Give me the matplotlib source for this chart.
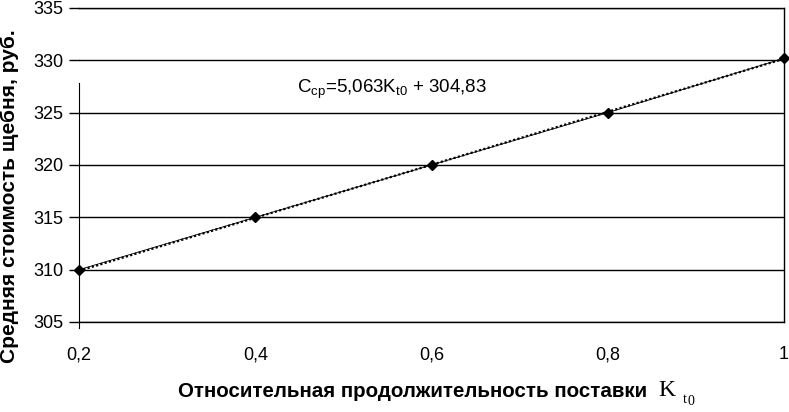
import matplotlib
matplotlib.use("Agg")
import matplotlib.pyplot as plt
import numpy as np

plt.rcParams['font.family'] = ['Liberation Sans', 'DejaVu Sans']
plt.rcParams['mathtext.fontset'] = 'custom'
plt.rcParams['mathtext.rm'] = 'Liberation Sans'
plt.rcParams['mathtext.it'] = 'Liberation Sans'

k_values = [0.2, 0.4, 0.6, 0.8, 1.0]
cost_values = [310.0, 315.0, 320.0, 325.0, 330.2]
x_ticks = [0.2, 0.4, 0.6, 0.8, 1.0]
x_tick_labels = ["0,2", "0,4", "0,6", "0,8", "1"]
y_ticks = [305, 310, 315, 320, 325, 330, 335]
trend_slope = 5.063
trend_intercept = 304.83
equation = "C$_{\\mathrm{ср}}$=5,063K$_{\\mathrm{t0}}$ + 304,83"

W, H = 789, 412
fig = plt.figure(figsize=(W / 100, H / 100), dpi=100)
ax = fig.add_axes([79 / W, 1 - 322 / H, 705 / W, 314 / H])

ax.set_xlim(0.2, 1.0)
ax.set_ylim(305, 335)

for yv in y_ticks:
    ax.axhline(yv, color='black', lw=1.0, zorder=1)

ax.plot(k_values, cost_values, color='black', lw=0.6, zorder=3, clip_on=False,
        marker='D', markersize=5.5, markerfacecolor='black', markeredgecolor='black')
idx = np.arange(1, len(k_values) + 1)
trend = trend_slope * idx + trend_intercept
ax.plot(k_values, trend, color='black', lw=1.6, ls=(0, (1, 1)), zorder=2)

ax.set_xticks(x_ticks)
ax.set_xticklabels(x_tick_labels)
ax.set_yticks(y_ticks)
ax.tick_params(axis='y', direction='out', length=7, width=1.0, labelsize=13, pad=4)
ax.tick_params(axis='x', direction='out', length=0, labelsize=13, pad=17.5)

for s in ['top', 'right', 'bottom']:
    ax.spines[s].set_linewidth(1.0)
ax.spines['left'].set_bounds(304.4, 327.8)

fig.text(10 / W, 1 - 196 / H, "Средняя стоимость щебня, руб.", fontsize=15,
         fontweight='bold', rotation=90, ha='center', va='center')
fig.text(178 / W, 1 - 397 / H, "Относительная продолжительность поставки", fontsize=14.8,
         fontweight='bold', ha='left', va='baseline')
fig.text(658 / W, 1 - 396 / H, "K", fontsize=17, family='Liberation Serif',
         ha='left', va='baseline')
fig.text(683 / W, 1 - 403 / H, "t", fontsize=10, family='Liberation Serif',
         ha='left', va='baseline')
fig.text(687.5 / W, 1 - 405 / H, "0", fontsize=10, family='Liberation Serif',
         ha='left', va='baseline')

ax.text(0.447, 327.2, equation, fontsize=13.5, ha='left', va='center')

fig.savefig("out.png", dpi=100)
